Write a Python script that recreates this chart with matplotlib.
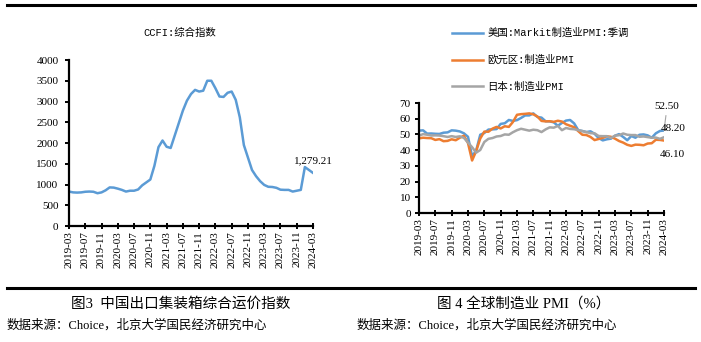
import matplotlib
matplotlib.use("Agg")
import matplotlib.pyplot as plt
from matplotlib.lines import Line2D
from matplotlib.font_manager import FontProperties

# ---------------- data ----------------
months = [f"{y}-{m:02d}" for y in range(2019, 2025) for m in range(1, 13)]
months = months[months.index("2019-03"): months.index("2024-03") + 1]
tick_labels = months[::4]

ccfi = [830, 810, 805, 810, 825, 830, 825, 790, 810, 860,
        930, 925, 900, 870, 830, 850, 850, 880, 980, 1050, 1120, 1450,
        1900, 2060, 1910, 1880, 2180, 2480, 2780, 3020, 3180, 3280, 3240, 3260,
        3500, 3500, 3320, 3120, 3110, 3210, 3240, 3040, 2620, 1950, 1650, 1350,
        1200, 1080, 990, 945, 940, 920, 875, 870, 870, 830, 850, 870,
        1420, 1350, 1279.21]

us_pmi = [52.4, 52.6, 50.5, 50.6, 50.4, 50.3, 51.1, 51.3, 52.6, 52.4,
          51.9, 50.7, 48.5, 36.1, 39.8, 49.8, 50.9, 53.1, 53.2, 53.4, 56.7, 57.1,
          59.2, 58.6, 59.1, 60.5, 62.1, 62.1, 63.4, 61.1, 60.7, 58.4, 58.3, 57.7,
          55.5, 57.3, 58.8, 59.2, 57.0, 52.7, 52.2, 51.5, 52.0, 50.4, 47.7, 46.2,
          46.9, 47.3, 49.2, 50.2, 48.4, 46.3, 49.0, 47.9, 49.8, 50.0, 49.4, 47.9,
          50.7, 52.2, 52.5]
ez_pmi = [47.5, 47.9, 47.7, 47.6, 46.5, 47.0, 45.7, 45.9, 46.9, 46.3,
          47.9, 49.2, 44.5, 33.4, 39.4, 47.4, 51.8, 51.7, 53.7, 54.8, 53.8, 55.2,
          54.8, 57.9, 62.5, 62.9, 63.1, 63.4, 62.8, 61.4, 58.6, 58.3, 58.4, 58.0,
          58.7, 58.2, 56.5, 55.5, 54.6, 52.1, 49.8, 49.6, 48.4, 46.4, 47.1, 47.8,
          48.8, 48.5, 47.3, 45.8, 44.8, 43.4, 42.7, 43.5, 43.4, 43.1, 44.2, 44.4,
          46.6, 46.5, 46.1]
jp_pmi = [49.2, 50.2, 49.8, 49.3, 49.4, 49.3, 48.9, 48.4, 48.9, 48.4,
          48.8, 47.8, 44.8, 41.9, 38.4, 40.1, 45.2, 47.2, 47.7, 48.7, 49.0, 50.0,
          49.8, 51.4, 52.7, 53.6, 53.0, 52.4, 53.0, 52.7, 51.5, 53.2, 54.5, 54.3,
          55.4, 52.7, 54.1, 53.5, 53.3, 52.7, 52.1, 51.5, 50.8, 50.7, 49.0, 48.9,
          48.9, 47.7, 49.2, 49.5, 50.6, 49.8, 49.6, 49.6, 48.5, 48.7, 48.3, 47.9,
          48.0, 47.2, 48.2]

series_names = ["美国:Markit制造业PMI:季调", "欧元区:制造业PMI", "日本:制造业PMI"]
colors = ["#5B9BD5", "#ED7D31", "#A5A5A5"]

# ---------------- figure ----------------
W, H = 701, 342
fig = plt.figure(figsize=(W / 100, H / 100), dpi=100)

SERIF = ["Liberation Serif", "Noto Sans CJK SC"]
MONO = ["Liberation Mono", "Noto Sans CJK SC"]


def px(x, y):
    return x / W, 1 - y / H


def box(l, t, r, b):
    return [l / W, 1 - b / H, (r - l) / W, (b - t) / H]


def style_axes(ax, ylim, yticks, ypad):
    x = list(range(len(months)))
    ax.set_xlim(0, len(months) - 1)
    ax.set_ylim(*ylim)
    ax.set_yticks(yticks)
    ax.set_xticks(x[::4])
    ax.set_xticklabels(tick_labels, rotation=90, family=SERIF, fontsize=8)
    for lab in ax.get_yticklabels():
        lab.set_family(SERIF)
        lab.set_fontsize(8)
    for s in ["top", "right"]:
        ax.spines[s].set_visible(False)
    for s in ["left", "bottom"]:
        ax.spines[s].set_linewidth(1.6)
    ax.tick_params(axis="x", direction="inout", length=5, width=1.4, pad=1)
    ax.tick_params(axis="y", direction="out", length=3, width=1.4, pad=ypad)
    ax.patch.set_alpha(0)


# left chart
ax1 = fig.add_axes(box(69, 60, 313, 226))
xs = list(range(len(months)))
ax1.plot(xs, ccfi, color=colors[0], lw=1.8, solid_joinstyle="round")
style_axes(ax1, (0, 4000), range(0, 4001, 500), 4.5)
ax1.annotate("1,279.21", xy=(xs[-1], ccfi[-1]), xytext=(0, 8.6),
             textcoords="offset points", ha="center", va="center",
             family=SERIF, fontsize=8)
fig.text(*px(180, 33), "CCFI:综合指数", ha="center", va="center",
         family=MONO, fontsize=7.5)

# right chart
ax2 = fig.add_axes(box(419, 103, 664, 213))
handles = []
for vals, c, n in zip([us_pmi, ez_pmi, jp_pmi], colors, series_names):
    h, = ax2.plot(xs, vals, color=c, lw=1.8, label=n, solid_joinstyle="round")
    handles.append(h)
style_axes(ax2, (0, 70), range(0, 71, 10), 3)

ax2.annotate("52.50", xy=(xs[-1], us_pmi[-1]), xytext=(2.2, 17),
             textcoords="offset points", ha="center", va="center",
             family=SERIF, fontsize=8,
             arrowprops=dict(arrowstyle="-", color="#A5A5A5", lw=0.8,
                             shrinkA=1, shrinkB=0))
ax2.annotate("48.20", xy=(xs[-1], jp_pmi[-1]), xytext=(6.5, 6.5),
             textcoords="offset points", ha="center", va="center",
             family=SERIF, fontsize=8)
ax2.annotate("46.10", xy=(xs[-1], ez_pmi[-1]), xytext=(5.8, -9.7),
             textcoords="offset points", ha="center", va="center",
             family=SERIF, fontsize=8)

fig.legend(handles=handles, loc="upper left", bbox_to_anchor=px(452, 28),
           frameon=False, borderpad=0, borderaxespad=0,
           prop=FontProperties(family=MONO, size=7.5),
           handlelength=3.0, handletextpad=0.4, labelspacing=1.6)

# frame lines
fig.add_artist(Line2D([7 / W, 695 / W], [1 - 5 / H] * 2, color="black", lw=2.2))
fig.add_artist(Line2D([7 / W, 695 / W], [1 - 288 / H] * 2, color="black", lw=2.2))

# captions and sources
fig.text(*px(181, 304), "图3  中国出口集装箱综合运价指数", ha="center", va="center",
         family=SERIF, fontsize=10.5)
fig.text(*px(524, 304), "图 4 全球制造业 PMI（%）", ha="center", va="center",
         family=SERIF, fontsize=10.5)
fig.text(*px(7, 325), "数据来源：Choice，北京大学国民经济研究中心", ha="left", va="center",
         family=SERIF, fontsize=9)
fig.text(*px(357, 325), "数据来源：Choice，北京大学国民经济研究中心", ha="left", va="center",
         family=SERIF, fontsize=9)

fig.savefig("out.png", dpi=100)
